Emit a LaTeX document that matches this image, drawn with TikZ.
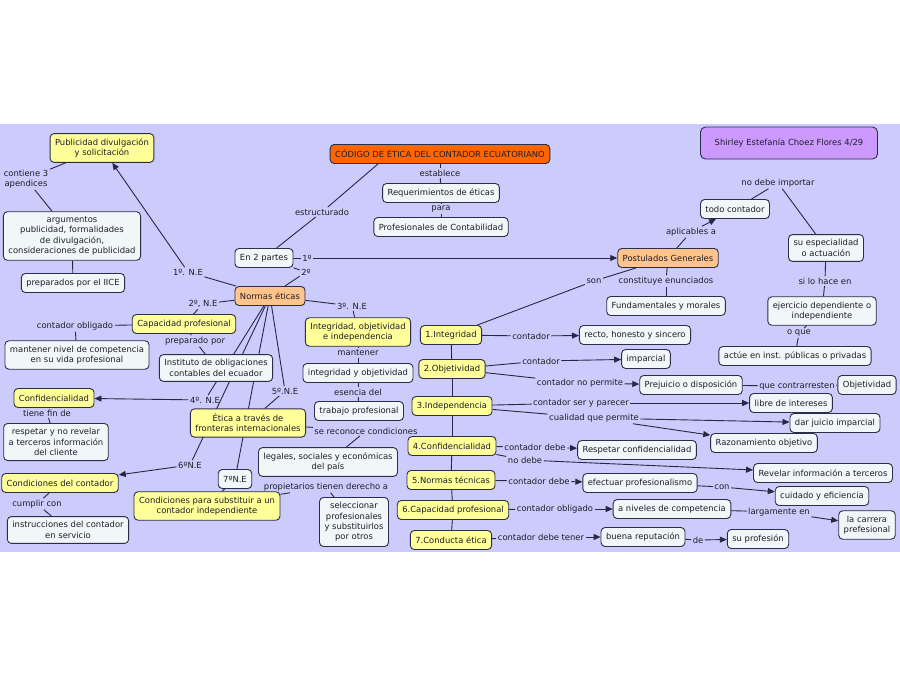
\documentclass[tikz,border=0pt]{standalone}
\usepackage{fontspec}
\setmainfont{DejaVu Sans}
\usetikzlibrary{arrows.meta, backgrounds}
\definecolor{fondo}{RGB}{203,203,252}
\definecolor{amarillo}{RGB}{255,255,153}
\definecolor{claro}{RGB}{241,246,248}
\definecolor{naranja}{RGB}{255,102,0}
\definecolor{durazno}{RGB}{255,195,140}
\definecolor{lila}{RGB}{204,153,255}
\definecolor{borde}{RGB}{45,45,70}
\definecolor{linea}{RGB}{40,40,70}
\definecolor{texto}{RGB}{30,30,40}
\tikzset{
	concepto/.style={draw=borde, line width=0.9pt, rounded corners=4pt, fill=claro, align=center, inner xsep=5pt, inner ysep=5pt, minimum height=19pt, font=\fontsize{8.4}{10.3}\selectfont, text=texto},
	amar/.style={concepto, fill=amarillo},
	raiz/.style={concepto, fill=durazno},
	enlace/.style={align=center, inner sep=1.5pt, font=\fontsize{8.4}{10.3}\selectfont, text=texto},
	conector/.style={draw=linea, line width=0.9pt},
	flecha/.style={conector, -{Triangle[length=7pt,width=6pt]}}
}

\begin{document}
\begin{tikzpicture}[x=1pt, y=-1pt]
	\useasboundingbox (0,0) rectangle (900,680);
	\node[concepto, fill=naranja] (codigo) at (440,154) {CÓDIGO DE ÉTICA DEL CONTADOR ECUATORIANO};
	\node[concepto, fill=lila, minimum width=177pt, minimum height=32pt, rounded corners=5pt] (shirley) at (789,143) {Shirley Estefanía Choez Flores 4/29};
	\node[concepto] (req) at (441,193) {Requerimientos de éticas};
	\node[concepto] (prof) at (441,227) {Profesionales de Contabilidad};
	\node[amar] (pub) at (102,148) {Publicidad divulgación\\y solicitación};
	\node[concepto] (arg) at (72,236) {argumentos\\publicidad, formalidades\\de divulgación,\\consideraciones de publicidad};
	\node[concepto] (iice) at (73,283) {preparados por el IICE};
	\node[concepto] (partes) at (264,258) {En 2 partes};
	\node[raiz] (normas) at (270,296) {Normas éticas};
	\node[amar] (cap) at (184,324) {Capacidad profesional};
	\node[concepto] (mant) at (77,355) {mantener nivel de competencia\\en su vida profesional};
	\node[concepto] (inst) at (216,368) {Instituto de obligaciones\\contables del ecuador};
	\node[amar] (integobj) at (358,332) {Integridad, objetividad\\e independencia};
	\node[concepto] (integ) at (358,373) {integridad y objetividad};
	\node[concepto] (trab) at (359,411) {trabajo profesional};
	\node[amar] (confi) at (54,398) {Confidencialidad};
	\node[concepto] (resp) at (56,442) {respetar y no revelar\\a terceros información\\del cliente};
	\node[amar] (etica) at (248,423) {Ética a través de\\fronteras internacionales};
	\node[concepto] (legales) at (328,462) {legales, sociales y económicas\\del país};
	\node[amar] (cond) at (60,483) {Condiciones del contador};
	\node[concepto] (instr) at (68,530) {instrucciones del contador\\en servicio};
	\node[concepto] (siete) at (235,479) {7ºN.E};
	\node[amar] (subst) at (207,506) {Condiciones para substituir a un\\contador independiente};
	\node[concepto] (selec) at (354,522) {seleccionar\\profesionales\\y substituirlos\\por otros};
	\node[amar] (i1) at (451,335) {1.Integridad};
	\node[amar] (i2) at (452,369) {2.Objetividad};
	\node[amar] (i3) at (452,406) {3.Independencia};
	\node[amar] (i4) at (452,446) {4.Confidencialidad};
	\node[amar] (i5) at (451,480) {5.Normas técnicas};
	\node[amar] (i6) at (453,510) {6.Capacidad profesional};
	\node[amar] (i7) at (451,540) {7.Conducta ética};
	\node[raiz] (post) at (668,258) {Postulados Generales};
	\node[concepto] (fund) at (666,306) {Fundamentales y morales};
	\node[concepto] (todo) at (735,209) {todo contador};
	\node[concepto] (espec) at (826,248) {su especialidad\\o actuación};
	\node[concepto] (ejerc) at (822,311) {ejercicio dependiente o\\independiente};
	\node[concepto] (actue) at (795,356) {actúe en inst. públicas o privadas};
	\node[concepto] (recto) at (635,335) {recto, honesto y sincero};
	\node[concepto] (impar) at (646,359) {imparcial};
	\node[concepto] (prej) at (691,385) {Prejuicio o disposición};
	\node[concepto] (obj) at (867,385) {Objetividad};
	\node[concepto] (libre) at (791,403) {libre de intereses};
	\node[concepto] (dar) at (835,423) {dar juicio imparcial};
	\node[concepto] (razon) at (764,443) {Razonamiento objetivo};
	\node[concepto] (respc) at (637,450) {Respetar confidencialidad};
	\node[concepto] (revel) at (823,473) {Revelar información a terceros};
	\node[concepto] (efect) at (640,483) {efectuar profesionalismo};
	\node[concepto] (cuid) at (822,496) {cuidado y eficiencia};
	\node[concepto] (anive) at (672,509) {a niveles de competencia};
	\node[concepto] (carrera) at (867,525) {la carrera\\prefesional};
	\node[concepto] (buena) at (643,537) {buena reputación};
	\node[concepto] (suprof) at (758,539) {su profesión};

	\node[enlace] (contiene) at (26,179) {contiene 3\\apendices};
	\node[enlace] (estr) at (322,212) {estructurado};
	\node[enlace] (establece) at (440,173) {establece};
	\node[enlace] (para) at (441,209) {para};
	\node[enlace] (p1) at (307,258) {1º};
	\node[enlace] (p2) at (306,272) {2º};
	\node[enlace] (ne1) at (188,272) {1º. N.E};
	\node[enlace] (ne2) at (203,304) {2º, N.E};
	\node[enlace] (oblig) at (75,326) {contador obligado};
	\node[enlace] (prep) at (195,341) {preparado por};
	\node[enlace] (ne3) at (352,306) {3º. N.E};
	\node[enlace] (lmant) at (358,353) {mantener};
	\node[enlace] (esen) at (358,392) {esencia del};
	\node[enlace] (ne4) at (205,400) {4º. N.E};
	\node[enlace] (fin) at (47,413) {tiene fin de};
	\node[enlace] (ne5) at (285,391) {5º.N.E};
	\node[enlace] (recon) at (366,431) {se reconoce condiciones};
	\node[enlace] (ne6) at (190,465) {6ºN.E};
	\node[enlace] (cumplir) at (37,504) {cumplir con};
	\node[enlace] (prop) at (326,487) {propietarios tienen derecho a};
	\node[enlace] (son) at (594,281) {son};
	\node[enlace] (const) at (666,281) {constituye enunciados};
	\node[enlace] (aplic) at (691,232) {aplicables a};
	\node[enlace] (noimp) at (778,183) {no debe importar};
	\node[enlace] (sihace) at (825,281) {si lo hace en};
	\node[enlace] (oque) at (799,333) {o que};
	\node[enlace] (c1) at (531,336) {contador};
	\node[enlace] (c2) at (541,361) {contador};
	\node[enlace] (noperm) at (580,383) {contador no permite};
	\node[enlace] (contra) at (797,386) {que contrarresten};
	\node[enlace] (ser) at (581,403) {contador ser y parecer};
	\node[enlace] (cual) at (594,418) {cualidad que permite};
	\node[enlace] (debe4) at (535,447) {contador debe};
	\node[enlace] (nodebe) at (525,460) {no debe};
	\node[enlace] (debe5) at (539,481) {contador debe};
	\node[enlace] (lcon) at (722,487) {con};
	\node[enlace] (oblig6) at (555,509) {contador obligado};
	\node[enlace] (largo) at (779,512) {largamente en};
	\node[enlace] (tener) at (541,537) {contador debe tener};
	\node[enlace] (de) at (698,540) {de};

	\begin{scope}[on background layer]
		\fill[fondo] (0,124) rectangle (900,552);
		\draw[conector] ([xshift=-62pt]codigo.south) -- (estr);
		\foreach \a/\b in {estr/partes, codigo/establece, establece/req, req/para, para/prof,
			partes/p1, partes/p2, p2/normas, normas/ne1, pub/contiene, contiene/arg, arg/iice,
			normas/ne2, ne2/cap, cap/oblig, oblig/mant, cap/prep, prep/inst,
			normas/ne3, ne3/integobj, integobj/lmant, lmant/integ, integ/esen, esen/trab,
			normas/ne4, confi/fin, fin/resp, normas/ne5, ne5/etica, etica/recon, recon/legales,
			normas/ne6, cond/cumplir, cumplir/instr, normas/siete, siete/subst, subst/prop, prop/selec,
			i1/i2, i2/i3, i3/i4, i4/i5, i5/i6, i6/i7, i1/son, son/post, post/const, const/fund,
			post/aplic, todo/noimp, noimp/espec, espec/sihace, sihace/ejerc, ejerc/oque, oque/actue,
			i1/c1, i2/c2, i2/noperm, prej/contra, contra/obj, i3/ser, i3/cual,
			i4/debe4, i4/nodebe, i5/debe5, efect/lcon, i6/oblig6, anive/largo, i7/tener, buena/de}
			\draw[conector] (\a) -- (\b);
		\foreach \a/\b in {p1/post, ne1/pub, ne4/confi, ne6/cond, aplic/todo,
			c1/recto, c2/impar, noperm/prej, ser/libre, cual/dar, cual/razon,
			debe4/respc, nodebe/revel, debe5/efect, lcon/cuid, oblig6/anive, largo/carrera,
			tener/buena, de/suprof}
			\draw[flecha] (\a) -- (\b);
	\end{scope}
\end{tikzpicture}
\end{document}
